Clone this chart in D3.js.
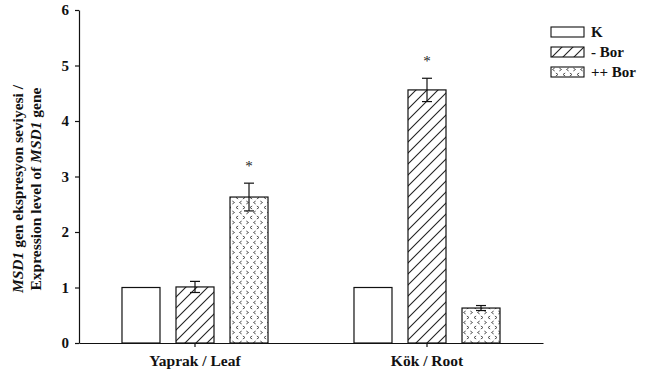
<!DOCTYPE html>
<html>
<head>
<meta charset="utf-8">
<script src="https://cdn.jsdelivr.net/npm/d3@7"></script>
<style>
  html, body { margin: 0; padding: 0; background: #fff; }
  svg { display: block; }
  svg text { font-family: "Liberation Serif", "Times New Roman", serif; }
</style>
</head>
<body>
<svg id="chart" width="654" height="372"></svg>
<script>
// Tissue groups and treatments
const groups = ["Yaprak / Leaf", "Kök / Root"];
const treatments = ["K", "- Bor", "++ Bor"];

// Relative expression (mean) per group, in treatment order
const leafValues = [1.00, 1.01, 2.63];
const rootValues = [1.00, 4.56, 0.63];

// Error (± SE) per group, in treatment order; null = no bar
const leafErrors = [null, 0.10, 0.25];
const rootErrors = [null, 0.21, 0.045];

// Significance markers per group, in treatment order
const leafStars = ["", "", "*"];
const rootStars = ["", "*", ""];

const yTicks = [0, 1, 2, 3, 4, 5, 6];

const rows = [];
groups.forEach((g, gi) => {
  const vals = gi === 0 ? leafValues : rootValues;
  const errs = gi === 0 ? leafErrors : rootErrors;
  const stars = gi === 0 ? leafStars : rootStars;
  treatments.forEach((t, ti) => rows.push({ group: g, treatment: t, value: vals[ti], err: errs[ti], star: stars[ti] }));
});

const FONT = "Liberation Serif, Times New Roman, serif";
const svg = d3.select("#chart");
const plotLeft = 79, plotRight = 543, plotTop = 10, plotBottom = 343;

const x0 = d3.scaleBand().domain(groups).range([plotLeft, plotRight]).paddingInner(0).paddingOuter(0);
const x1 = d3.scaleBand().domain(treatments).range([0, x0.bandwidth()]).paddingInner(0.2963).paddingOuter(0.796);
const y = d3.scaleLinear().domain([0, 6]).range([plotBottom, plotTop]);

// Fill patterns
const defs = svg.append("defs");
const hatch = defs.append("pattern").attr("id", "hatch").attr("patternUnits", "userSpaceOnUse")
  .attr("width", 11).attr("height", 11);
hatch.append("path").attr("d", "M0,11 L11,0 M-2,2 L2,-2 M9,13 L13,9")
  .attr("stroke", "#222").attr("stroke-width", 1.1).attr("fill", "none");

const dots = defs.append("pattern").attr("id", "dots").attr("patternUnits", "userSpaceOnUse")
  .attr("width", 14).attr("height", 10);
const chev = (cx, cy, dir) => dir < 0
  ? `M${cx + 1.2},${cy - 1.5} L${cx - 1},${cy} L${cx + 1.2},${cy + 1.5}`
  : `M${cx - 1.2},${cy - 1.5} L${cx + 1},${cy} L${cx - 1.2},${cy + 1.5}`;
dots.append("path")
  .attr("d", [chev(2.5, 2.5, -1), chev(9.5, 2.5, 1), chev(6, 7.5, 1), chev(13, 7.5, -1), chev(-1, 7.5, -1)].join(" "))
  .attr("stroke", "#444").attr("stroke-width", 0.9).attr("fill", "none");

const fills = { "K": "#fff", "- Bor": "url(#hatch)", "++ Bor": "url(#dots)" };

// Bars
svg.append("g").selectAll("rect").data(rows).join("rect")
  .attr("x", d => x0(d.group) + x1(d.treatment))
  .attr("y", d => y(d.value))
  .attr("width", x1.bandwidth())
  .attr("height", d => y(0) - y(d.value))
  .attr("fill", d => fills[d.treatment])
  .attr("stroke", "#111").attr("stroke-width", 1.2);

// Error bars
const eb = svg.append("g").attr("stroke", "#111").attr("stroke-width", 1.2);
rows.filter(d => d.err != null).forEach(d => {
  const cx = x0(d.group) + x1(d.treatment) + x1.bandwidth() / 2;
  const hi = y(d.value + d.err), lo = y(d.value - d.err);
  eb.append("line").attr("x1", cx).attr("x2", cx).attr("y1", hi).attr("y2", lo);
  eb.append("line").attr("x1", cx - 5).attr("x2", cx + 5).attr("y1", hi).attr("y2", hi);
  eb.append("line").attr("x1", cx - 5).attr("x2", cx + 5).attr("y1", lo).attr("y2", lo);
});

// Significance stars
svg.append("g").selectAll("text").data(rows.filter(d => d.star)).join("text")
  .attr("x", d => x0(d.group) + x1(d.treatment) + x1.bandwidth() / 2)
  .attr("y", d => y(d.value + (d.err || 0)) - 12)
  .attr("text-anchor", "middle")
  .attr("font-family", FONT).attr("font-size", 15).attr("fill", "#222")
  .text(d => d.star);

// Y axis
const yAxis = svg.append("g").attr("transform", `translate(${plotLeft},0)`)
  .call(d3.axisLeft(y).tickValues(yTicks).tickSize(4).tickSizeOuter(0).tickFormat(d3.format("d")));
yAxis.attr("font-family", FONT);
yAxis.select(".domain").attr("stroke", "#111").attr("stroke-width", 1.2);
yAxis.selectAll(".tick line").attr("stroke", "#111").attr("stroke-width", 1.2);
yAxis.selectAll(".tick text").attr("font-size", 15).attr("font-weight", "bold")
  .attr("font-family", FONT).attr("fill", "#111").attr("x", -10);

// X axis
const xAxis = svg.append("g").attr("transform", `translate(0,${plotBottom})`)
  .call(d3.axisBottom(x0).tickSize(4).tickSizeOuter(0));
xAxis.attr("font-family", FONT);
xAxis.select(".domain").attr("stroke", "#111").attr("stroke-width", 1.2);
xAxis.selectAll(".tick line").attr("stroke", "#111").attr("stroke-width", 1.2);
xAxis.selectAll(".tick text").attr("font-size", 15.5).attr("font-weight", "bold")
  .attr("font-family", FONT).attr("fill", "#111").attr("y", 12);

// Y axis title (two lines, gene name in italics)
const yt = svg.append("text").attr("transform", "translate(23,189) rotate(-90)")
  .attr("text-anchor", "middle").attr("font-family", FONT)
  .attr("font-size", 15.5).attr("font-weight", "bold").attr("fill", "#111");
yt.append("tspan").attr("font-style", "italic").text("MSD1");
yt.append("tspan").text(" gen ekspresyon seviyesi /");
const yt2 = svg.append("text").attr("transform", "translate(41,189) rotate(-90)")
  .attr("text-anchor", "middle").attr("font-family", FONT)
  .attr("font-size", 15.5).attr("font-weight", "bold").attr("fill", "#111");
yt2.append("tspan").text("Expression level of ");
yt2.append("tspan").attr("font-style", "italic").text("MSD1");
yt2.append("tspan").text(" gene");

// Legend
const lg = svg.append("g").attr("transform", "translate(551,27)");
treatments.forEach((t, i) => {
  const row = lg.append("g").attr("transform", `translate(0,${i * 20})`);
  row.append("rect").attr("width", 33).attr("height", 10)
    .attr("fill", fills[t]).attr("stroke", "#111").attr("stroke-width", 1.1);
  row.append("text").attr("x", 40).attr("y", 10).attr("font-family", FONT)
    .attr("font-size", 15).attr("font-weight", "bold")
    .attr("fill", "#111").text(t);
});
</script>
</body>
</html>
